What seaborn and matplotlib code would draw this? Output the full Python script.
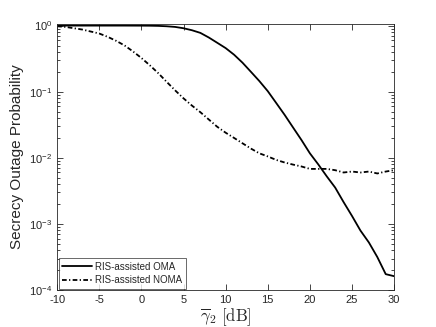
import numpy as np
import pandas as pd
import matplotlib
matplotlib.use("Agg")
import matplotlib.pyplot as plt
import seaborn as sns
from matplotlib.ticker import LogLocator, NullFormatter
from matplotlib.lines import Line2D

snr_db = list(range(-10, 31))
oma = [1.0, 1.0, 1.0, 1.0, 1.0, 1.0, 1.0, 1.0, 1.0, 0.999, 0.998, 0.996,
       0.99, 0.977, 0.955, 0.912, 0.851, 0.776, 0.661, 0.550, 0.457, 0.363,
       0.275, 0.200, 0.145, 0.102, 0.0676, 0.0447, 0.0288, 0.0186, 0.0117,
       0.00794, 0.00525, 0.00355, 0.00214, 0.00132, 0.000794, 0.000525,
       0.000316, 0.000174, 0.000162]
noma = [0.977, 0.955, 0.912, 0.871, 0.813, 0.759, 0.676, 0.589, 0.501, 0.407,
        0.324, 0.251, 0.191, 0.141, 0.105, 0.0794, 0.0617, 0.0490, 0.0380,
        0.0295, 0.0240, 0.0200, 0.0166, 0.0138, 0.0117, 0.0105, 0.0093,
        0.0085, 0.0079, 0.0074, 0.0068, 0.0068, 0.0068, 0.0065, 0.0060,
        0.0062, 0.0060, 0.0062, 0.0058, 0.0062, 0.0065]
labels = ["RIS-assisted OMA", "RIS-assisted NOMA"]
xticks = [-10, -5, 0, 5, 10, 15, 20, 25, 30]

sns.set_style("ticks")
plt.rcParams['font.family'] = ['Liberation Sans', 'DejaVu Sans']
plt.rcParams['mathtext.fontset'] = 'cm'

df = pd.DataFrame({
    "snr": snr_db * 2,
    "p": oma + noma,
    "scheme": [labels[0]] * len(snr_db) + [labels[1]] * len(snr_db),
})

LW = 1.3
DASHDOT = (2.6, 1.3, 0.7, 1.3)

fig = plt.figure(figsize=(4.36, 3.27), dpi=100)
ax = fig.add_axes([0.131, 0.113, 0.773, 0.813])
sns.lineplot(data=df, x="snr", y="p", style="scheme",
             dashes={labels[0]: "", labels[1]: DASHDOT},
             color="black", linewidth=LW, ax=ax, legend=False)

ax.set_yscale("log")
ax.set_xlim(-10, 30)
ax.set_ylim(1e-4, 1.05)
ax.set_xticks(xticks)
ax.set_xticklabels([str(t) for t in xticks])
ax.yaxis.set_major_locator(LogLocator(base=10, numticks=10))
ax.yaxis.set_minor_locator(LogLocator(base=10, subs=np.arange(2, 10), numticks=10))
ax.yaxis.set_minor_formatter(NullFormatter())
ax.tick_params(axis="both", which="both", direction="in", top=True, right=True,
               labelsize=8, colors="#262626", width=0.6)
ax.tick_params(which="major", length=4)
ax.tick_params(which="minor", length=2)
for s in ax.spines.values():
    s.set_color("#262626")
    s.set_linewidth(0.6)
    s.set_visible(True)

ax.set_ylabel("Secrecy Outage Probability", fontsize=11, color="#262626", labelpad=4)
ax.set_xlabel(r"$\overline{\gamma}_2\ \mathrm{[dB]}$", fontsize=12, labelpad=1)

handles = [Line2D([], [], color="black", lw=LW, ls="-"),
           Line2D([], [], color="black", lw=LW, ls=(0, DASHDOT))]
leg = ax.legend(handles, labels, loc="lower left", fontsize=7, frameon=True, fancybox=False,
                edgecolor="#262626", borderaxespad=0.15, handlelength=3.1, borderpad=0.35,
                labelspacing=0.35, handletextpad=0.3)
leg.get_frame().set_linewidth(0.6)

fig.savefig("out.png", dpi=100)
